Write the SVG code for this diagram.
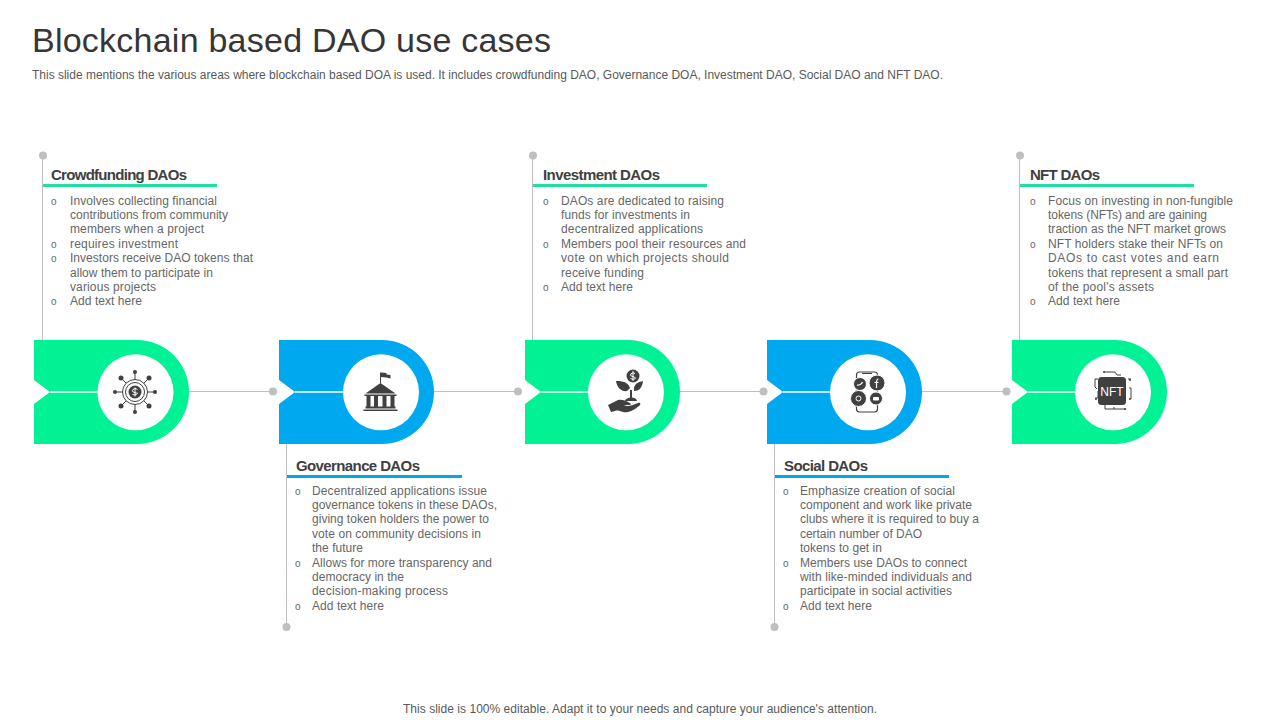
<svg xmlns="http://www.w3.org/2000/svg" width="1280" height="720" viewBox="0 0 1280 720">
<style>
text{font-family:"Liberation Sans",Arial,sans-serif}
.t{font-size:34px;fill:#363636}
.s{font-size:12px;fill:#595959}
.f{font-size:12px;fill:#595959}
.h{font-size:15px;font-weight:700;fill:#404040}
.b{font-size:12px;fill:#666}
.l{stroke:#bfbfbf;stroke-width:1;fill:none}
.d{fill:#bfbfbf}
.g{fill:#00f295}
.u{fill:#00a8f0}
.ug{fill:#1fe0a0}
.ub{fill:#00a8e8}
.i{fill:#404040;stroke:none}
.o{fill:none;stroke:#404040;stroke-width:1}
.w{stroke:#fff;stroke-width:1.5}
.m{font-size:10px}
</style>
<defs>
<path id="badge" d="M0 0H103A52 52 0 0 1 103 104H0V64L16 52L0 40Z"/>
</defs>
<text class="t" x="32" y="52" textLength="519">Blockchain based DAO use cases</text>
<text class="s" x="32" y="78.500" textLength="911">This slide mentions the various areas where blockchain based DOA is used. It includes crowdfunding DAO, Governance DOA, Investment DAO,  Social DAO  and NFT DAO.</text>
<g id="connectors">
<path class="l" d="M42.500 155V340M532.500 155V340M1019.500 155V340M286.500 444V627M774.500 444V627"/>
<path class="l" d="M189 391.500H273M434 391.500H518M679 391.500H763.500M922 391.500H1006.500"/>
<circle class="d" cx="43" cy="155.500" r="4"/><circle class="d" cx="533" cy="155.500" r="4"/><circle class="d" cx="1020" cy="155.500" r="4"/>
<circle class="d" cx="286.500" cy="627" r="4"/><circle class="d" cx="774.500" cy="627" r="4"/>
<circle class="d" cx="273" cy="391.500" r="4"/><circle class="d" cx="518" cy="391.500" r="4"/><circle class="d" cx="763.500" cy="391.500" r="4"/><circle class="d" cx="1006.500" cy="391.500" r="4"/>
</g>
<g id="node-crowdfunding">
<use href="#badge" x="34" y="340" class="g"/>
<path class="w" d="M50 392H98"/>
<circle cx="135.500" cy="392.300" r="38" fill="#fff"/>
<g transform="translate(135,392)">
<circle class="i" r="6.500"/><circle class="o" r="9.500"/><circle class="o" r="12.500"/>
<path class="o" d="M0-12.500V-19M0 12.500V19M-12.500 0H-19M12.500 0H19M-9-9L-14-14M9-9L14-14M-9 9L-14 14M9 9L14 14"/>
<circle class="i" cy="-20" r="2"/><circle class="i" cy="20" r="2"/><circle class="i" cx="-20" r="2"/><circle class="i" cx="20" r="2"/>
<circle class="i" cx="-14" cy="-14" r="2.500"/><circle class="i" cx="14" cy="-14" r="2.500"/><circle class="i" cx="-14" cy="14" r="2.500"/><circle class="i" cx="14" cy="14" r="2.500"/>
<path d="M2.500-2.500C1-4-2.500-3.500-2.500-1.200S2.500 1 2.500 1.200S1 4-2.500 2.500M0-4.500V4.500" fill="none" stroke="#fff" stroke-width="1"/>
</g>
<text class="h" x="51" y="179.500" textLength="136">Crowdfunding DAOs</text>
<rect class="ug" x="43" y="184" width="174" height="3"/>
<g class="b">
<text class="m" x="51" y="205">o</text><text x="70" y="205" textLength="147">Involves collecting financial</text>
<text x="70" y="219" textLength="158">contributions from community</text>
<text x="70" y="233" textLength="134">members when a project</text>
<text class="m" x="51" y="248">o</text><text x="70" y="248" textLength="108">requires investment</text>
<text class="m" x="51" y="262">o</text><text x="70" y="262" textLength="183">Investors receive DAO tokens that</text>
<text x="70" y="277" textLength="143">allow them to participate in</text>
<text x="70" y="291" textLength="86">various projects</text>
<text class="m" x="51" y="305">o</text><text x="70" y="305" textLength="72">Add text here</text>
</g>
</g>
<g id="node-governance">
<use href="#badge" x="279" y="340" class="u"/>
<path class="w" d="M295 392H343"/>
<circle cx="381" cy="392.300" r="38" fill="#fff"/>
<g transform="translate(380.500,392)">
<path class="i" d="M0-9L15 1.500H-15ZM-16 2.500H16V4H-16ZM-14 4H-10V15H-14ZM-6.500 4H-2.500V15H-6.500ZM2 4H6V15H2ZM10 4H14V15H10ZM-15 14.500H15V16.500H-15ZM-17 17.500H17V19H-17Z"/>
<path class="i" d="M-.5-9V-19.500H.5V-9ZM.5-19.500L6-19V-14.500L.5-15ZM6-17.500L10-17V-13.500L6-14.500Z"/>
</g>
<text class="h" x="296" y="470.500" textLength="124">Governance DAOs</text>
<rect class="ub" x="287" y="475" width="175" height="3"/>
<g class="b">
<text class="m" x="295" y="495">o</text><text x="312" y="495" textLength="175">Decentralized applications issue</text>
<text x="312" y="509" textLength="185">governance tokens in these DAOs,</text>
<text x="312" y="523" textLength="177">giving token holders the power to</text>
<text x="312" y="538" textLength="169">vote on community decisions in</text>
<text x="312" y="552" textLength="51">the future</text>
<text class="m" x="295" y="567">o</text><text x="312" y="567" textLength="180">Allows for more transparency and</text>
<text x="312" y="581" textLength="92">democracy in the</text>
<text x="312" y="595" textLength="136">decision-making process</text>
<text class="m" x="295" y="610">o</text><text x="312" y="610" textLength="72">Add text here</text>
</g>
</g>
<g id="node-investment">
<use href="#badge" x="525" y="340" class="g"/>
<path class="w" d="M541 392H589"/>
<circle cx="626" cy="392.300" r="38" fill="#fff"/>
<g transform="translate(626,392)">
<circle class="i" cx="7" cy="-16" r="6.500"/>
<path d="M9-18.500C7.500-19.500 4.500-19 4.500-17S9.500-15.500 9.500-14S6-12.500 4.500-13.500M7-21V-11" fill="none" stroke="#fff" stroke-width="1"/>
<path class="i" d="M4-4C2-10-3-11-10-11C-9-4-4 0 1-1ZM8-4C9-9 13-10 17-11C16-4 13-1 8-1ZM4-2H6V7H4Z"/>
<path class="i" d="M-1 9C0 5 10 4 11 9ZM-18 13L-8 8C-4 7 0 9 2 10C5 11 6 13 3 13H-2C1 15 5 14 12 11C15 10 15 13 13 14C6 20 0 21-3 20C-6 19-9 18-11 19L-15 20Z"/>
</g>
<text class="h" x="543" y="179.500" textLength="117">Investment DAOs</text>
<rect class="ug" x="533" y="184" width="174" height="3"/>
<g class="b">
<text class="m" x="543" y="205">o</text><text x="561" y="205" textLength="163">DAOs are dedicated to raising</text>
<text x="561" y="219" textLength="129">funds for investments in</text>
<text x="561" y="233" textLength="142">decentralized applications</text>
<text class="m" x="543" y="248">o</text><text x="561" y="248" textLength="185">Members pool their resources and</text>
<text x="561" y="262" textLength="168">vote on which projects should</text>
<text x="561" y="277" textLength="83">receive funding</text>
<text class="m" x="543" y="291">o</text><text x="561" y="291" textLength="72">Add text here</text>
</g>
</g>
<g id="node-social">
<use href="#badge" x="767" y="340" class="u"/>
<path class="w" d="M783 392H831"/>
<circle cx="868" cy="392.300" r="38" fill="#fff"/>
<g transform="translate(867,392)">
<rect x="-10.500" y="-20" width="21" height="40" rx="3" fill="none" stroke="#404040" stroke-width="1.200"/>
<path class="o" d="M-5-18.500H5"/>
<circle cx="-7" cy="-8" r="6.500" fill="#404040" stroke="#fff"/><circle cx="10" cy="-9" r="8" fill="#404040" stroke="#fff"/>
<circle cx="-8.500" cy="6.500" r="8" fill="#404040" stroke="#fff"/><circle cx="9" cy="6.500" r="6.500" fill="#404040" stroke="#fff"/>
<path d="M-10-7C-8-6.500-5-8-4.500-10M11.500-13C9.500-13 9.500-11.500 9.500-4M7.500-9.500H11.500" fill="none" stroke="#fff" stroke-width="1.200"/>
<circle cx="-8.500" cy="6.500" r="2.500" fill="none" stroke="#fff"/><rect x="6" y="5" width="6" height="3.500" rx="1" fill="#fff"/>
</g>
<text class="h" x="784" y="470.500" textLength="84">Social DAOs</text>
<rect class="ub" x="775" y="475" width="174" height="3"/>
<g class="b">
<text class="m" x="783" y="495">o</text><text x="800" y="495" textLength="155">Emphasize creation of social</text>
<text x="800" y="509" textLength="172">component and work like private</text>
<text x="800" y="523" textLength="179">clubs where it is required to buy a</text>
<text x="800" y="538" textLength="122">certain number of DAO</text>
<text x="800" y="552" textLength="82">tokens to get in</text>
<text class="m" x="783" y="567">o</text><text x="800" y="567" textLength="167">Members use DAOs to connect</text>
<text x="800" y="581" textLength="172">with like-minded individuals and</text>
<text x="800" y="595" textLength="152">participate in social activities</text>
<text class="m" x="783" y="610">o</text><text x="800" y="610" textLength="72">Add text here</text>
</g>
</g>
<g id="node-nft">
<use href="#badge" x="1012" y="340" class="g"/>
<path class="w" d="M1028 392H1076"/>
<circle cx="1113" cy="392.300" r="38" fill="#fff"/>
<g transform="translate(1112,391)">
<rect class="i" x="-14" y="-14" width="28" height="28" rx="3.500"/>
<path class="o" d="M-8-19H3L5-16H9M-17-12V-4L-15-2M-17 7H-14V0M16-12H19M-14-12H-17M17-3H19V8M2 16V18H-7V14M2 18H14"/>
<circle class="i" cx="-8" cy="-19" r="1"/><circle class="i" cx="18" cy="-11" r="1"/><circle class="i" cx="18" cy="8" r="1"/><circle class="i" cx="13" cy="18" r="1"/><circle class="i" cx="-16" cy="8" r="1"/>
<text x="0" y="4.500" text-anchor="middle" font-size="12" fill="#fff">NFT</text>
</g>
<text class="h" x="1030" y="179.500" textLength="70">NFT DAOs</text>
<rect class="ug" x="1020" y="184" width="174" height="3"/>
<g class="b">
<text class="m" x="1030" y="205">o</text><text x="1048" y="205" textLength="185">Focus on investing in non-fungible</text>
<text x="1048" y="219" textLength="159">tokens (NFTs) and are gaining</text>
<text x="1048" y="233" textLength="178">traction as the NFT market grows</text>
<text class="m" x="1030" y="248">o</text><text x="1048" y="248" textLength="175">NFT holders stake their NFTs on</text>
<text x="1048" y="262" textLength="171">DAOs to cast votes and earn</text>
<text x="1048" y="277" textLength="180">tokens that represent a small part</text>
<text x="1048" y="291" textLength="106">of the pool's assets</text>
<text class="m" x="1030" y="305">o</text><text x="1048" y="305" textLength="72">Add text here</text>
</g>
</g>
<text class="f" x="403" y="713" textLength="474">This slide is 100% editable. Adapt it to your needs and capture your audience's attention.</text>
</svg>
